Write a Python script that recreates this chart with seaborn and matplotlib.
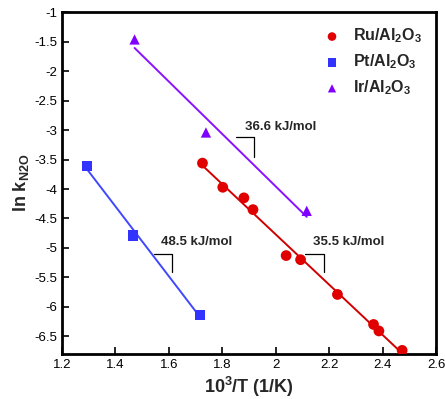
import numpy as np
import pandas as pd
import matplotlib
matplotlib.use('Agg')
import matplotlib.pyplot as plt
import seaborn as sns

# data
ru_x = [1.726, 1.802, 1.881, 1.915, 2.039, 2.093, 2.231, 2.366, 2.386, 2.473]
ru_y = [-3.56, -3.97, -4.15, -4.35, -5.13, -5.20, -5.79, -6.30, -6.41, -6.74]
pt_x = [1.295, 1.467, 1.718]
pt_y = [-3.61, -4.79, -6.14]
ir_x = [1.472, 1.739, 2.116]
ir_y = [-1.46, -3.04, -4.37]

series = ['Ru/Al$_2$O$_3$', 'Pt/Al$_2$O$_3$', 'Ir/Al$_2$O$_3$']
energies = ['35.5 kJ/mol', '48.5 kJ/mol', '36.6 kJ/mol']

df = pd.concat([
    pd.DataFrame({'x': ru_x, 'y': ru_y, 'cat': series[0]}),
    pd.DataFrame({'x': pt_x, 'y': pt_y, 'cat': series[1]}),
    pd.DataFrame({'x': ir_x, 'y': ir_y, 'cat': series[2]}),
])

sns.set_style('ticks')
plt.rcParams['font.family'] = ['Liberation Sans', 'DejaVu Sans']
plt.rcParams['mathtext.fontset'] = 'custom'
plt.rcParams['mathtext.rm'] = 'Liberation Sans:bold'
plt.rcParams['mathtext.it'] = 'Liberation Sans:bold'
plt.rcParams['mathtext.bf'] = 'Liberation Sans:bold'
plt.rcParams['mathtext.default'] = 'bf'

fig = plt.figure(figsize=(4.45, 3.99), dpi=100)
ax = fig.add_axes([0.139, 0.113, 0.841, 0.856])

marker_cols = ['#e00000', '#3333ff', '#8000ff']
line_cols = ['#d00000', '#4048ff', '#8a10ff']
markers = ['o', 's', '^']
sizes = [60, 55, 55]

for i, s in enumerate(series):
    sub = df[df['cat'] == s]
    sns.regplot(data=sub, x='x', y='y', ax=ax, scatter=False, ci=None,
                truncate=True, line_kws={'color': line_cols[i], 'lw': 1.4})
for i, s in enumerate(series):
    sub = df[df['cat'] == s]
    ax.scatter(sub['x'], sub['y'], marker=markers[i], s=sizes[i],
               color=marker_cols[i], edgecolor='none', zorder=5, label=s)

# slope brackets + activation energy labels
brackets = [
    ([2.111, 2.179, 2.179], [-5.10, -5.10, -5.41], 2.273, -4.90),
    ([1.545, 1.612, 1.612], [-5.10, -5.10, -5.41], 1.706, -4.90),
    ([1.852, 1.919, 1.919], [-3.12, -3.12, -3.46], 2.018, -2.95),
]
for (bx, by, tx, ty), lab in zip(brackets, energies):
    ax.plot(bx, by, color='black', lw=0.9)
    ax.text(tx, ty, lab, ha='center', va='center', fontsize=9.5, fontweight='bold')

ax.set_xlim(1.2, 2.6)
ax.set_ylim(-6.8, -1)
ax.set_xticks(np.arange(1.2, 2.61, 0.2))
ax.set_xticklabels(['1.2', '1.4', '1.6', '1.8', '2', '2.2', '2.4', '2.6'])
ax.set_yticks(np.arange(-6.5, -0.99, 0.5))
ax.set_yticklabels(['-6.5', '-6', '-5.5', '-5', '-4.5', '-4', '-3.5', '-3',
                    '-2.5', '-2', '-1.5', '-1'])
ax.tick_params(direction='in', length=5, width=1.2, labelsize=9.5, colors='black')
for sp in ax.spines.values():
    sp.set_linewidth(2)
    sp.set_color('black')

ax.set_xlabel('10$^3$/T (1/K)', fontsize=13, fontweight='bold', labelpad=3)
ax.set_ylabel('ln k$_{N2O}$', fontsize=13, fontweight='bold', labelpad=2)

leg = ax.legend(loc='upper right', frameon=False, handletextpad=0.3,
                borderaxespad=0.5, labelspacing=0.45, markerscale=0.8,
                prop={'weight': 'bold', 'size': 11.5})

fig.savefig('out.png', dpi=100)
